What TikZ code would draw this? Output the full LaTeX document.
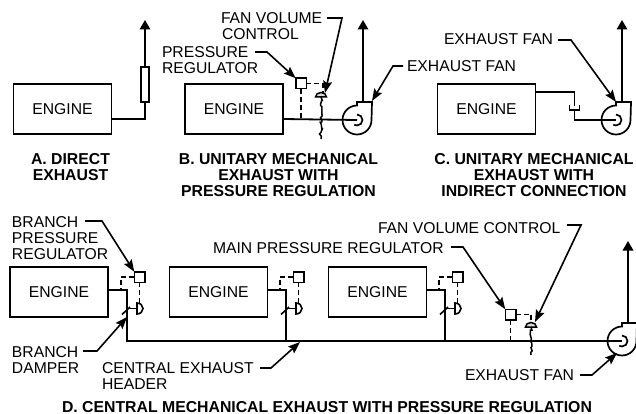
\documentclass[tikz,border=0pt]{standalone}
\usepackage{fontspec}
\setmainfont{Liberation Sans}
\usetikzlibrary{arrows.meta,decorations.pathmorphing,calc}
\newcommand{\stemlen}{42}
\tikzset{
  x=1pt,y=-1pt,
  every node/.style={inner sep=0pt,outer sep=0pt},
  lbl/.style={font=\fontsize{15.7}{16}\selectfont,align=left,anchor=base west},
  captxt/.style={font=\fontsize{15.8}{16}\selectfont\bfseries,align=center,anchor=base},
  engine/.style={draw,line width=1.6pt,minimum width=98pt,minimum height=50pt,font=\fontsize{15.7}{16}\selectfont},
  reg/.style={draw,line width=1.5pt,minimum width=10.5pt,minimum height=10.5pt},
  pipe/.style={line width=1.8pt},
  flow/.style={line width=1.8pt,-{Triangle[length=9.5pt,width=10.5pt]}},
  sig/.style={line width=1.6pt,dash pattern=on 5pt off 3pt},
  leader/.style={line width=1.6pt,-{Stealth[length=12pt,width=9pt,inset=2pt]}},
  fanpic/.pic={
    \draw[y=1pt,line width=1.7pt,line join=miter]
      (15,18) -- (0,18) -- (0,14.5) arc[start angle=90,end angle=360,radius=14.5] -- cycle;
    \draw[y=1pt,line width=1.7pt] (0,5.5) arc[start angle=90,end angle=-120,radius=5.5];
  },
  domepic/.pic={
    \draw[y=1pt,line width=1.5pt,fill=black!15] (-5.5,0) arc[start angle=180,end angle=0,x radius=5.5,y radius=4.5] -- cycle;
    \draw[y=1pt,line width=1.5pt,decorate,decoration={random steps,segment length=2.2pt,amplitude=1.6pt}] (0,0) -- (0,-\stemlen);
  },
  damperpic/.pic={
    \draw[y=1pt,line width=1.6pt] (0,5.5) arc[start angle=90,end angle=-90,x radius=6,y radius=5.5] -- cycle;
    \draw[y=1pt,line width=1.6pt] (0,0) -- (-9,0);
    \draw[y=1pt,line width=1.6pt] (-7,1.5) -- (-15,-6);
  }
}
\begin{document}
\begin{tikzpicture}
\useasboundingbox (0,0) rectangle (636,414);
\fill[white] (0,0) rectangle (636,414);

% ---------- A
\node[engine] (engA) at (62.5,109) {ENGINE};
\node[draw,line width=1.5pt,minimum width=8pt,minimum height=35pt] (silA) at (145,84.5) {};
\coordinate (topA) at (145,20);
\draw[pipe] ([yshift=-10pt]engA.east) -| (silA.south);
\draw[flow] (silA.north) -- (topA);
\node[captxt] (capA) at (70.5,180) {A. DIRECT\\EXHAUST};

% ---------- B
\node[engine] (engB) at (234,109) {ENGINE};
\coordinate (fanB) at (357,120);
\coordinate (topB) at (363,20);
\coordinate (outB) at (363,102);
\coordinate (ctlB) at (321,97);
\node[reg] (regB) at (301,83.5) {};
\coordinate (sigB) at (323,83.5);
\coordinate (sigB2) at (323,93);
\draw[pipe] ([yshift=-10pt]engB.east) -- (fanB);
\path (fanB) pic {fanpic};
\draw[flow] (outB) -- (topB);
\draw[sig] (regB.south) -- (regB.south |- fanB);
\draw[sig] (regB.east) -- (sigB) -- (sigB2);
\path (ctlB) pic {domepic};
\node[lbl] (lbFanVolB) at (221,40) {FAN VOLUME\\\hspace*{1pt}CONTROL};
\coordinate (a1) at (327,18); \coordinate (a2) at (342,18); \coordinate (a3) at (325,93);
\draw[leader] (a1) -- (a2) -- (a3);
\node[lbl] (lbPrB) at (162,74) {PRESSURE\\REGULATOR};
\coordinate (b1) at (255,52); \coordinate (b2) at (267,52);
\draw[leader] (b1) -- (b2) -- (regB.north west);
\node[lbl] (lbFanB) at (407,72) {EXHAUST FAN};
\coordinate (c1) at (403,66); \coordinate (c2) at (393,66); \coordinate (c3) at (372,101);
\draw[leader] (c1) -- (c2) -- (c3);
\node[captxt] (capB) at (278.5,196) {B. UNITARY MECHANICAL\\EXHAUST WITH\\PRESSURE REGULATION};

% ---------- C
\node[engine] (engC) at (486.5,109) {ENGINE};
\coordinate (fanC) at (616,120);
\coordinate (topC) at (622,20);
\coordinate (outC) at (622,102);
\coordinate (hoodT) at (574.5,106);
\coordinate (hoodB) at (574.5,110);
\draw[pipe] ([yshift=17pt]engC.east) -| (hoodT);
\draw[pipe] (569.5,105) -- (569.5,110) -- (579.5,110) -- (579.5,105);
\draw[pipe] (hoodB) |- (fanC);
\path (fanC) pic {fanpic};
\draw[flow] (outC) -- (topC);
\node[lbl] (lbFanC) at (444,45) {EXHAUST FAN};
\coordinate (d1) at (558,40); \coordinate (d2) at (571,40); \coordinate (d3) at (616,102);
\draw[leader] (d1) -- (d2) -- (d3);
\node[captxt] (capC) at (534,196) {C. UNITARY MECHANICAL\\EXHAUST WITH\\INDIRECT CONNECTION};

% ---------- D
\coordinate (fanD) at (622,341);
\coordinate (outD) at (628,323);
\coordinate (topD) at (628,241);
\node[engine] (engD1) at (59,292) {ENGINE};
\node[engine] (engD2) at (218.5,292) {ENGINE};
\node[engine] (engD3) at (377.5,292) {ENGINE};
\coordinate (j1) at (127,341); \coordinate (j2) at (286,341); \coordinate (j3) at (445,341);
\draw[pipe] ([yshift=2pt]engD1.east) -| (j1) -- (fanD);
\draw[pipe] ([yshift=2pt]engD2.east) -| (j2);
\draw[pipe] ([yshift=2pt]engD3.east) -| (j3);
\path (fanD) pic {fanpic};
\draw[flow] (outD) -- (topD);
\foreach \p/\q in {1/127,2/286,3/445}{
  \node[reg] (regD\p) at ($(\q,277)+(12.5,0)$) {};
  \coordinate (s\p) at ($(\q,277)+(-6,0)$);
  \coordinate (t\p) at ($(\q,290)+(-6,0)$);
  \draw[sig] (regD\p.west) -- (s\p) -- (t\p);
  \coordinate (dm\p) at ($(\q,308.5)+(10,0)$);
  \coordinate (de\p) at ($(\q,303)+(10,0)$);
  \draw[sig] (regD\p.south) -- (regD\p.south |- de\p);
  \path (dm\p) pic {damperpic};
}
\node[reg] (regM) at (510.5,314.5) {};
\coordinate (sigM) at (531,314.5);
\coordinate (sigM2) at (531,322);
\coordinate (ctlM) at (531,327);
\draw[sig] (regM.south) -- (regM.south |- fanD);
\draw[sig] (regM.east) -- (sigM) -- (sigM2);
\renewcommand{\stemlen}{28}
\path (ctlM) pic {domepic};
\node[lbl] (lbBr) at (12,259) {BRANCH\\PRESSURE\\REGULATOR};
\coordinate (e1) at (85,221); \coordinate (e2) at (102,221);
\draw[leader] (e1) -- (e2) -- (regD1.north west);
\node[lbl] (lbDm) at (12,373) {BRANCH\\DAMPER};
\coordinate (f1) at (83,351); \coordinate (f2) at (97,351); \coordinate (f3) at (127,317);
\draw[leader] (f1) -- (f2) -- (f3);
\node[lbl] (lbHd) at (102,389) {CENTRAL EXHAUST\\HEADER};
\coordinate (g1) at (260,368); \coordinate (g2) at (271,368); \coordinate (g3) at (300,342);
\draw[leader] (g1) -- (g2) -- (g3);
\node[lbl] (lbMn) at (213,253) {MAIN PRESSURE REGULATOR};
\coordinate (h1) at (451,247); \coordinate (h2) at (463,247);
\draw[leader] (h1) -- (h2) -- (regM.north west);
\node[lbl] (lbFv) at (378,233) {FAN VOLUME CONTROL};
\coordinate (i1) at (567,225); \coordinate (i2) at (581,225); \coordinate (i3) at (535,322);
\draw[leader] (i1) -- (i2) -- (i3);
\node[lbl] (lbFanD) at (465,380) {EXHAUST FAN};
\coordinate (k1) at (580,375); \coordinate (k2) at (592,375); \coordinate (k3) at (617,353);
\draw[leader] (k1) -- (k2) -- (k3);
\node[captxt] (capD) at (327,412) {D. CENTRAL MECHANICAL EXHAUST WITH PRESSURE REGULATION};
\end{tikzpicture}
\end{document}
